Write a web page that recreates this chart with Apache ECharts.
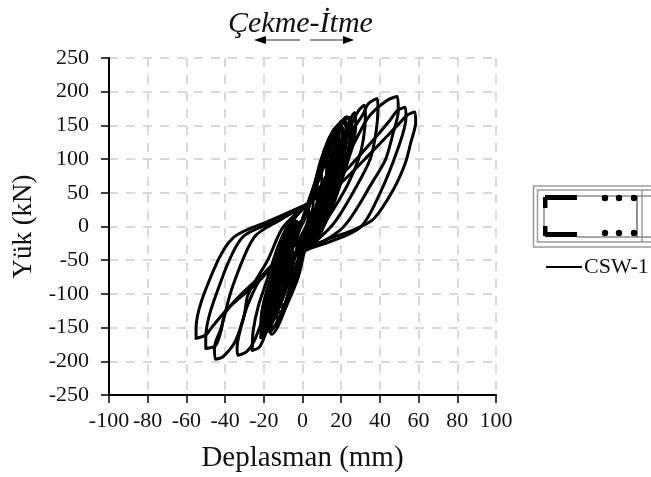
<!DOCTYPE html>
<html><head><meta charset="utf-8">
<style>html,body{margin:0;padding:0;background:#fff;overflow:hidden}#c{width:651px;height:477px}</style>
<script src="https://cdn.jsdelivr.net/npm/echarts@6/dist/echarts.min.js"></script>
</head><body><div id="c"></div>
<script>
const xTicks = [-100,-80,-60,-40,-20,0,20,40,60,80,100];
const yTicks = [-250,-200,-150,-100,-50,0,50,100,150,200,250];
const seriesName = 'CSW-1';
const xTitle = 'Deplasman (mm)';
const yTitle = 'Yük (kN)';
const topTitle = 'Çekme-İtme';

const loopA = [[0,4],[2,16],[3,26],[3.5,18],[2,2],[0,-10],[-2,-20],[-3,-30],[-3.5,-20],[-2,-6],[0,4]];
const loopB = [[0,8],[3,28],[5,46],[5.5,32],[4,12],[1,-10],[-2,-26],[-5,-50],[-5.5,-36],[-3,-12],[0,8]];
const loopC = [[0,10],[4,38],[7,66],[8,46],[6,20],[2,-10],[-3,-34],[-7,-72],[-8,-52],[-5,-18],[-1,6]];
const loopD = [[0,12],[5,50],[9,86],[10,62],[8,28],[3,-10],[-3,-36],[-9,-92],[-10,-66],[-7,-24],[-1,8]];
const loopE = [[1,16],[5,50],[11,106],[12.5,84],[10,38],[3,-14],[-3,-38],[-6,-70],[-11,-110],[-12,-82],[-9,-34],[-2,8]];
const loopF = [[1,18],[6,60],[13,122],[14.5,100],[12,48],[4,-14],[-4,-40],[-8,-84],[-13,-124],[-14,-96],[-10,-40],[-3,8]];
const loopG = [[2,22],[7,68],[15,136],[16.5,112],[14,58],[5,-14],[-4,-42],[-9,-92],[-15,-138],[-16,-108],[-11,-46],[-3,10]];
const loopH = [[2,24],[8,76],[17,146],[18.5,122],[15,64],[6,-14],[-4,-44],[-10,-102],[-17,-148],[-18,-120],[-12,-52],[-4,10]];
const loopI = [[2,26],[9,84],[19,152],[20.5,130],[17,72],[7,-14],[-5,-44],[-11,-110],[-19,-156],[-19.5,-128],[-13,-58],[-4,12]];
const loopJ = [[2,28],[10,92],[21,158],[23,134],[19,80],[8,-12],[-5,-46],[-12,-116],[-20,-160],[-20.5,-134],[-14,-62],[-5,12]];
const loopK = [[3,30],[11,98],[23,163],[25,142],[21,86],[9,-12],[-5,-46],[-13,-122],[-21,-165],[-21.5,-140],[-15,-68],[-5,13]];
const loopL = [[3,30],[12,100],[24,162],[26,140],[22,84],[11,2],[-4,-44],[-14,-124],[-20,-158],[-21,-132],[-16,-72],[-6,12]];
const loopS1 = [[1,14],[6,56],[12,112],[13,92],[11,52],[5,4],[-1,-26],[-6,-62],[-12,-116],[-13,-90],[-9,-46],[-4,-8],[1,14]];
const loopS2 = [[2,20],[8,72],[14,128],[15,106],[13,62],[7,12],[1,-22],[-5,-72],[-10,-120],[-12,-100],[-8,-56],[-3,-14],[2,20]];
const loopS3 = [[3,26],[9,78],[16,140],[17.5,118],[15,74],[8,16],[2,-18],[-4,-80],[-13,-136],[-14.5,-112],[-10,-66],[-4,-20],[3,26]];
const loopS4 = [[2,22],[8,66],[18,146],[19,124],[16.5,86],[10,24],[3,-14],[-3,-82],[-16,-152],[-17,-126],[-12,-80],[-6,-30],[2,22]];
const loopS5 = [[4,36],[10,84],[20,150],[21.5,132],[18,96],[12,34],[5,-6],[-2,-60],[-14,-146],[-18.5,-150],[-15,-104],[-8,-44],[4,36]];
const loopS6 = [[3,32],[9,74],[22,156],[23.5,136],[20,104],[13,44],[6,0],[-1,-48],[-8,-112],[-17,-156],[-19,-140],[-15,-96],[-7,-40],[3,32]];
const loopS7 = [[4,40],[11,96],[16,132],[18,120],[15,80],[9,34],[4,6],[0,-28],[-5,-90],[-16,-160],[-18,-136],[-13,-86],[-7,-48],[4,40]];
const loopS8 = [[5,44],[12,106],[20,146],[22,128],[19,94],[14,56],[7,16],[2,-14],[-3,-72],[-12,-128],[-15,-116],[-11,-74],[-6,-34],[5,44]];
const loopM = [[3,32],[10,62],[18,112],[24,155],[27,169],[27.5,150],[26,120],[23.7,100],[18,55],[10,8],[2,-32],[-7,-50],[-13,-92],[-19,-152],[-21.6,-165],[-21,-140],[-16,-75],[-10,-22],[-4,12],[3,33]];
const loopN = [[3,33],[10,62],[20,118],[25,150],[29,172],[32,180],[32.5,165],[31.5,130],[29,100],[23,60],[13,12],[2,-34],[-8,-52],[-13,-100],[-18,-150],[-22,-178],[-26,-184],[-25.5,-155],[-23,-120],[-19,-85],[-12,-25],[-5,14],[3,34]];
const loopO = [[3,33],[10,60],[20,118],[31,165],[34,182],[38.6,190],[39,175],[38,140],[35,100],[28,60],[16,4],[2,-34],[-8,-54],[-18,-118],[-25,-170],[-29,-186],[-33.5,-191],[-33.8,-180],[-30,-130],[-28,-100],[-18,-50],[-10,-1],[3,34]];
const loopP = [[3,34],[12,60],[25,115],[34,162],[43.6,187],[49,193],[49.5,172],[46.5,135],[43,100],[36.6,68],[21,-1],[2,-35],[-8,-42],[-20,-70],[-28,-114],[-34.5,-169],[-41,-193],[-45,-197],[-45.5,-180],[-42,-150],[-36,-88],[-25,-16],[-12,9],[3,34]];
const loopQ = [[3,34],[13,58],[24,88],[35,123],[45,157],[49,172],[53,177],[53.5,162],[49,113],[40,49],[30,-1],[13,-24],[1,-35],[-12,-55],[-26,-85],[-39.7,-127],[-42,-154],[-45,-177],[-50,-181],[-50,-165],[-42,-80],[-31,-16],[-14,8],[3,34]];
const loopR = [[3,34],[10,48],[19.6,64],[36.6,113],[50,153],[54,165],[58,170],[58.5,155],[56,125],[53,93],[47,55],[37,12],[28,-3],[15,-17],[5,-28],[1,-36],[-12,-52],[-24,-85],[-38,-120],[-47,-150],[-50,-161],[-55,-166],[-55,-151],[-46,-65],[-35.6,-16],[-16.5,9],[3,34]];
const loops = [loopA,loopB,loopC,loopD,loopE,loopF,loopG,loopH,loopI,loopJ,loopK,loopL,loopS1,loopS2,loopS3,loopS4,loopS5,loopS6,loopS7,loopS8,loopM,loopN,loopO,loopP,loopQ,loopR];

const serif = '"Liberation Serif","Times New Roman",serif';
const grayDash = {color:'#d9d9d9',width:2,type:[9,8]};
const chart = echarts.init(document.getElementById('c'),null,{renderer:'canvas'});
const gray = {stroke:'#9a9a9a',lineWidth:1.5,fill:'none'};
const blk = {fill:'#000'};
const rect = (x,y,w,h,style)=>({type:'rect',shape:{x,y,width:w,height:h},style});
const line = (x1,y1,x2,y2,stroke,lineWidth)=>({type:'line',shape:{x1,y1,x2,y2},style:{stroke,lineWidth}});
const dot = (cx,cy)=>({type:'circle',shape:{cx,cy,r:3.2},style:blk});
chart.setOption({
  animation:false,
  backgroundColor:'#fff',
  grid:{left:109,right:155,top:58,bottom:82,outerBoundsMode:'none'},
  legend:{data:[{name:seriesName,icon:'rect'}],left:546,top:256,itemWidth:36,itemHeight:2,itemGap:2,selectedMode:false,
    padding:0,textStyle:{fontFamily:serif,fontSize:22,color:'#111',padding:[0,0,0,-3]}},
  xAxis:{type:'value',min:-100,max:100,interval:20,name:xTitle,nameLocation:'middle',nameGap:49,
    nameTextStyle:{fontFamily:serif,fontSize:29,color:'#111'},
    axisLine:{onZero:false,lineStyle:{color:'#000',width:2}},
    axisTick:{length:8,lineStyle:{color:'#000',width:1.5}},
    axisLabel:{fontFamily:serif,fontSize:22,color:'#111',margin:15,hideOverlap:false,showMinLabel:true,showMaxLabel:true,
      customValues:xTicks},
    splitLine:{show:true,lineStyle:grayDash}},
  yAxis:{type:'value',min:-250,max:250,interval:50,name:yTitle,nameLocation:'middle',nameGap:72,
    nameTextStyle:{fontFamily:serif,fontSize:27,color:'#111'},
    axisLine:{onZero:false,lineStyle:{color:'#000',width:2}},
    axisTick:{length:8,lineStyle:{color:'#000',width:1.5}},
    axisLabel:{fontFamily:serif,fontSize:22,color:'#111',margin:20,customValues:yTicks},
    splitLine:{show:true,lineStyle:grayDash}},
  series:loops.map(l=>({type:'line',name:seriesName,data:l,smooth:0.3,showSymbol:false,symbol:'none',
    lineStyle:{color:'#000',width:3,join:'round'},itemStyle:{color:'#000'},z:3})),
  graphic:[
    {type:'text',left:228,top:9,style:{text:topTitle,fontFamily:serif,fontSize:30,fontStyle:'italic',fill:'#111'}},
    line(266,40,300,40,'#777',1.5),
    {type:'polygon',shape:{points:[[254,40],[266,36],[266,44]]},style:blk},
    line(310,40,343,40,'#777',1.5),
    {type:'polygon',shape:{points:[[354,40],[343,36],[343,44]]},style:blk},
    rect(533.5,186,130,61,gray),
    rect(537.5,190,130,52,gray),
    line(577,196,660,196,'#555',1),
    line(577,237,660,237,'#888',1.5),
    line(544,208,544,226,'#666',1.2),
    line(637,196,637,237,'#444',1.2),
    line(642,190,642,242,'#888',1.2),
    rect(545,195,32,5,blk),rect(543,197,4.5,11,blk),
    rect(543,226,4.5,10,blk),rect(545,232,32,5,blk),
    dot(605,198),dot(619,198),dot(634,198),dot(605,233),dot(619,233),dot(634,233)
  ]
});
</script></body></html>
